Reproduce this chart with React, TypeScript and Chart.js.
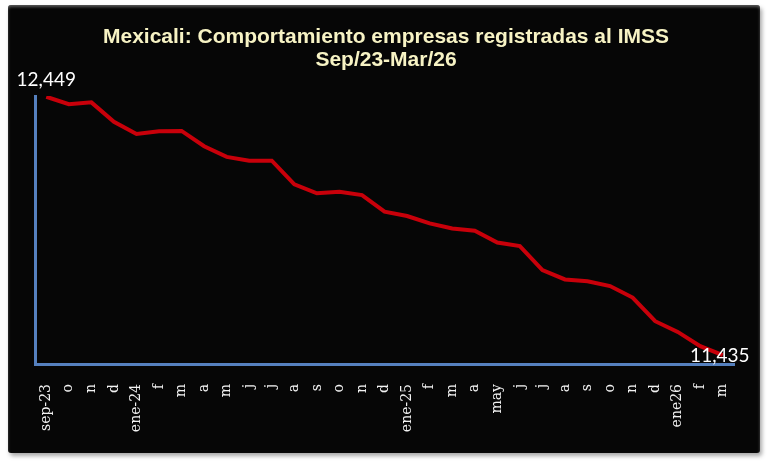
import React, { useEffect, useRef } from "react";
import { Chart, registerables } from "chart.js";

Chart.register(...registerables);

const titleLines = ["Mexicali: Comportamiento empresas registradas al IMSS", "Sep/23-Mar/26"];

const categories = [
  "sep-23", "o", "n", "d", "ene-24", "f", "m", "a", "m", "j", "j", "a", "s", "o", "n", "d",
  "ene-25", "f", "m", "a", "may", "j", "j", "a", "s", "o", "n", "d", "ene26", "f", "m",
];

const empresas = [
  12449, 12420, 12427, 12351, 12303, 12314, 12315, 12255, 12213, 12198, 12198, 12105, 12070,
  12076, 12063, 11998, 11981, 11952, 11932, 11923, 11877, 11863, 11769, 11732, 11725, 11706,
  11661, 11568, 11526, 11470, 11435,
];

const yMin = 11400;
const yMax = 12452;

const fmt = (v: number) => v.toLocaleString("en-US");

const endLabels = {
  id: "endLabels",
  afterDatasetsDraw(chart: any) {
    const meta = chart.getDatasetMeta(0);
    const ctx = chart.ctx;
    const data = chart.data.datasets[0].data as number[];
    ctx.save();
    ctx.fillStyle = "#ffffff";
    ctx.font = "19px Lato, 'Liberation Sans', sans-serif";
    ctx.textAlign = "center";
    ctx.textBaseline = "middle";
    const first = meta.data[0];
    ctx.fillText(fmt(data[0]), first.x, first.y - 17);
    const li = data.length - 1;
    const last = meta.data[li];
    ctx.fillText(fmt(data[li]), last.x - 3, last.y + 1);
    ctx.restore();
  },
};

export default function App() {
  const ref = useRef<HTMLCanvasElement>(null);
  useEffect(() => {
    if (!ref.current) return;
    const chart = new Chart(ref.current, {
      type: "line",
      data: {
        labels: categories,
        datasets: [
          {
            data: empresas,
            borderColor: "#c8000a",
            borderWidth: 4,
            pointRadius: 0,
            tension: 0,
            fill: false,
          },
        ],
      },
      options: {
        responsive: false,
        animation: false,
        layout: { padding: { left: 27, right: 23, top: 0, bottom: 0 } },
        plugins: {
          legend: { display: false },
          tooltip: { enabled: false },
          title: {
            display: true,
            text: titleLines,
            color: "#f7f3c4",
            font: { family: "'Liberation Sans', Arial, sans-serif", size: 21, weight: "bold", lineHeight: 1.1 },
            padding: { top: 20.5, bottom: 24.3 },
          },
        },
        scales: {
          x: {
            type: "category",
            offset: true,
            grid: { display: false, drawTicks: false },
            border: { display: true, color: "#5580be", width: 3 },
            ticks: {
              autoSkip: false,
              maxRotation: 90,
              minRotation: 90,
              padding: 20,
              color: "#f2f2f2",
              font: { family: "'DejaVu Serif', serif", size: 14 },
            },
            afterFit: (s: any) => {
              s.height = 89;
            },
          },
          y: {
            min: yMin,
            max: yMax,
            grid: { display: false, drawTicks: false },
            border: { display: true, color: "#5580be", width: 3 },
            ticks: { display: false },
            afterFit: (s: any) => {
              s.width = 0;
            },
          },
        },
      },
      plugins: [endLabels],
    });
    return () => chart.destroy();
  }, []);

  return (
    <div
      style={{
        position: "absolute",
        left: 8,
        top: 5,
        width: 752,
        height: 448,
        background: "#060606",
        borderRadius: 3,
        boxShadow: "2px 3px 4px rgba(0,0,0,0.35), inset 0 2px 3px rgba(190,190,190,0.45)",
      }}
    >
      <canvas ref={ref} width={752} height={448} style={{ display: "block" }} />
    </div>
  );
}
